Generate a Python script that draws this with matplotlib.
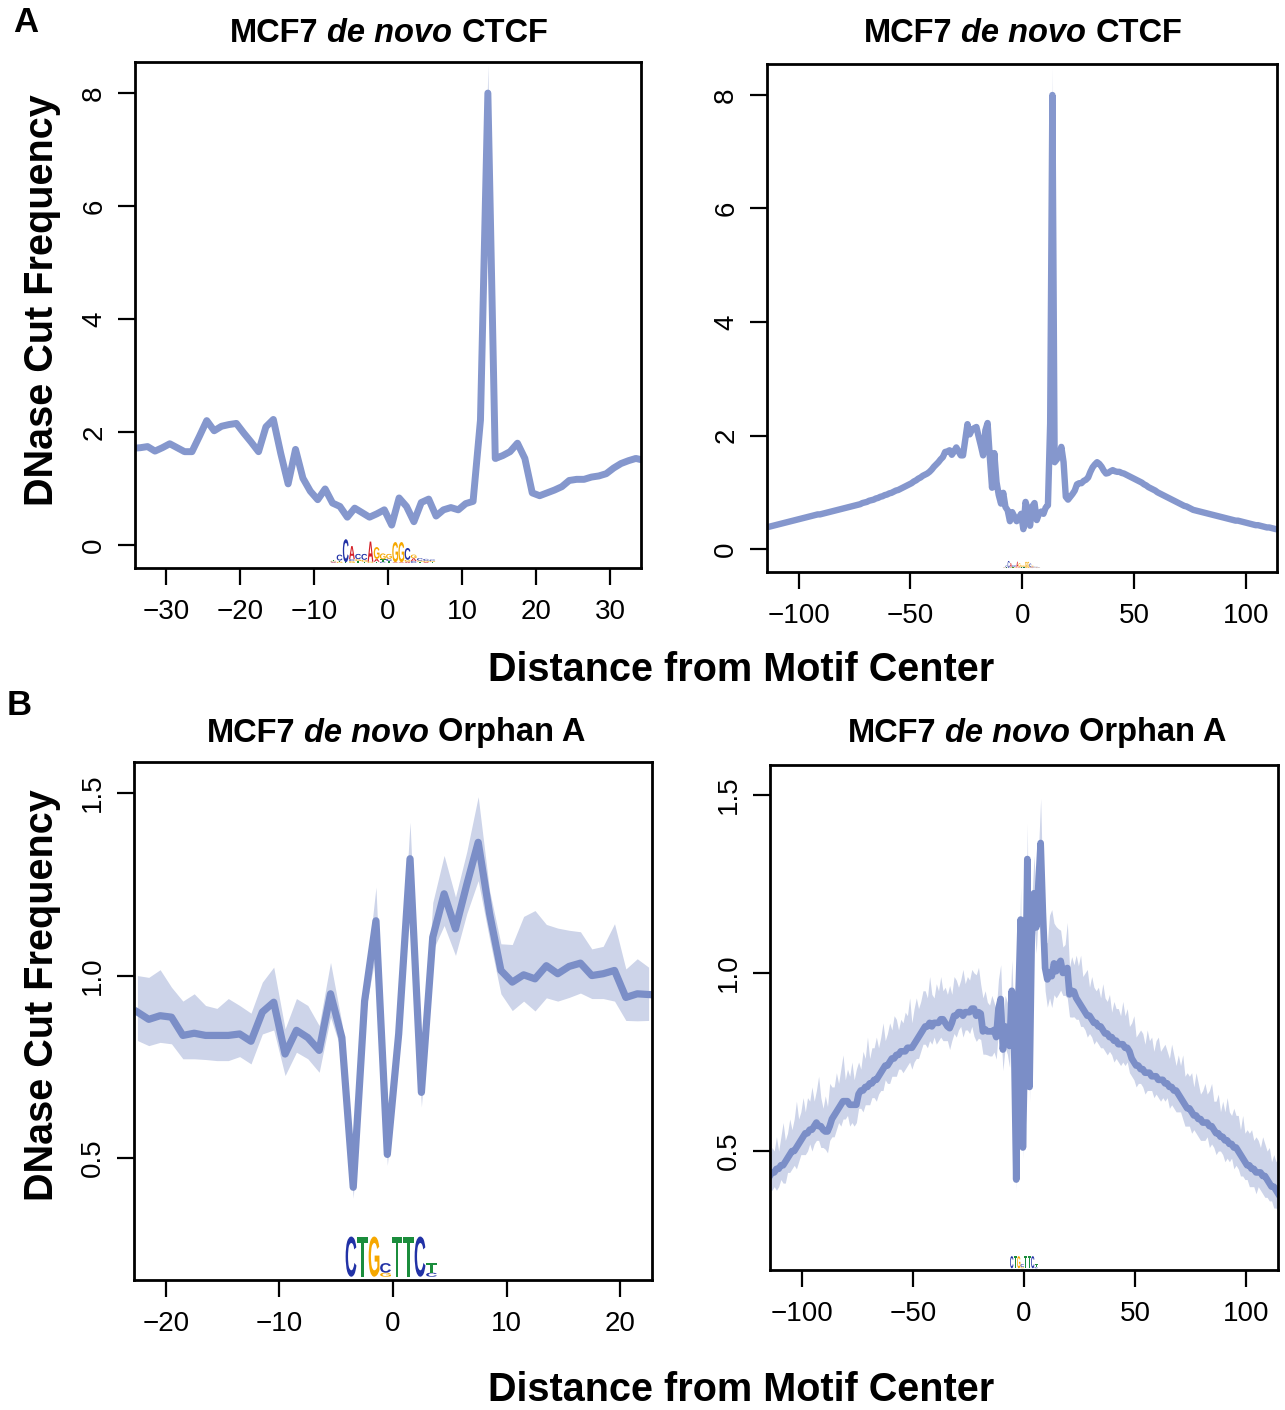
import numpy as np
import matplotlib.pyplot as plt
from matplotlib.font_manager import FontProperties
from matplotlib.patches import PathPatch
from matplotlib.textpath import TextPath
from matplotlib.transforms import Affine2D

W, H = 1285, 1410

# ---- CTCF profile, core window (positions -34.5 .. 34.5) ----
ctcf_x = np.arange(-34.5, 35.0, 1.0)
ctcf_y = [1.71, 1.72, 1.74, 1.66, 1.72, 1.79, 1.72, 1.65, 1.65, 1.92,
          2.20, 2.02, 2.10, 2.13, 2.15, 1.98, 1.82, 1.65, 2.09, 2.22,
          1.62, 1.08, 1.69, 1.18, 0.95, 0.80, 0.99, 0.74, 0.68, 0.49,
          0.65, 0.57, 0.49, 0.55, 0.62, 0.35, 0.83, 0.68, 0.41, 0.75,
          0.81, 0.51, 0.62, 0.66, 0.62, 0.73, 0.77, 2.21, 8.00, 1.53,
          1.58, 1.65, 1.80, 1.53, 0.92, 0.87, 0.92, 0.97, 1.03, 1.14,
          1.16, 1.16, 1.20, 1.22, 1.26, 1.36, 1.44, 1.49, 1.53, 1.50]
# confidence half-width (hundredths)
ctcf_err = [5, 4, 4, 3, 4, 4, 3, 3, 3, 4,
            4, 3, 3, 3, 3, 3, 3, 3, 4, 4,
            4, 4, 4, 3, 3, 3, 3, 3, 3, 3,
            3, 3, 3, 3, 3, 3, 3, 3, 3, 3,
            3, 3, 3, 3, 3, 3, 3, 10, 50, 6,
            4, 4, 4, 4, 3, 3, 3, 3, 3, 3,
            3, 3, 3, 3, 3, 3, 3, 3, 3, 4]

# flanks for the wide window (-114.5 .. -35.5 and 35.5 .. 114.5)
ctcf_left_x = np.arange(-114.5, -35.0, 1.0)
ctcf_left_y = [0.38, 0.39, 0.40, 0.41, 0.42, 0.43, 0.44, 0.45, 0.46, 0.47,
               0.48, 0.49, 0.50, 0.51, 0.52, 0.53, 0.54, 0.55, 0.56, 0.57,
               0.58, 0.59, 0.60, 0.61, 0.61, 0.62, 0.63, 0.64, 0.65, 0.66,
               0.67, 0.68, 0.69, 0.70, 0.71, 0.72, 0.73, 0.74, 0.75, 0.76,
               0.77, 0.78, 0.79, 0.81, 0.82, 0.83, 0.85, 0.86, 0.87, 0.89,
               0.90, 0.92, 0.93, 0.95, 0.96, 0.98, 0.99, 1.01, 1.03, 1.04,
               1.06, 1.08, 1.10, 1.12, 1.14, 1.16, 1.19, 1.21, 1.24, 1.26,
               1.29, 1.31, 1.33, 1.36, 1.40, 1.45, 1.49, 1.53, 1.58, 1.62]
ctcf_right_x = np.arange(35.5, 115.0, 1.0)
ctcf_right_y = [1.45, 1.38, 1.33, 1.34, 1.37, 1.39, 1.37, 1.36, 1.36, 1.34,
                1.33, 1.31, 1.29, 1.27, 1.25, 1.23, 1.21, 1.19, 1.17, 1.14,
                1.12, 1.09, 1.07, 1.05, 1.03, 1.00, 0.98, 0.96, 0.94, 0.92,
                0.90, 0.88, 0.86, 0.84, 0.82, 0.80, 0.78, 0.76, 0.75, 0.73,
                0.71, 0.69, 0.68, 0.67, 0.66, 0.65, 0.64, 0.63, 0.62, 0.61,
                0.60, 0.59, 0.58, 0.57, 0.56, 0.55, 0.54, 0.53, 0.52, 0.51,
                0.50, 0.50, 0.49, 0.48, 0.47, 0.46, 0.45, 0.44, 0.43, 0.42,
                0.42, 0.41, 0.40, 0.39, 0.38, 0.38, 0.37, 0.36, 0.35, 0.35]
ctcf_flank_err = 0.03

# ---- Orphan A profile, core window (-22.5 .. 22.5) ----
orph_x = np.arange(-22.5, 23.0, 1.0)
orph_y = [0.90, 0.88, 0.89, 0.886, 0.836, 0.842, 0.836, 0.836, 0.836, 0.84,
          0.82, 0.90, 0.927, 0.785, 0.85, 0.83, 0.795, 0.95, 0.83, 0.42,
          0.93, 1.15, 0.51, 0.84, 1.32, 0.68, 1.105, 1.224, 1.128, 1.25,
          1.365, 1.17, 1.014, 0.982, 1.002, 0.991, 1.027, 1.005, 1.025, 1.034,
          1.0, 1.005, 1.014, 0.94, 0.95, 0.948]
orph_hi = [1.00, 0.995, 1.016, 0.968, 0.93, 0.95, 0.918, 0.91, 0.937, 0.918,
           0.897, 0.982, 1.023, 0.854, 0.937, 0.918, 0.863, 1.036, 0.87, 0.45,
           0.96, 1.242, 0.54, 0.89, 1.42, 0.72, 1.20, 1.329, 1.215, 1.34,
           1.49, 1.233, 1.087, 1.085, 1.162, 1.178, 1.14, 1.13, 1.124, 1.12,
           1.073, 1.08, 1.142, 1.018, 1.046, 1.023]
orph_lo = [0.822, 0.808, 0.817, 0.813, 0.772, 0.772, 0.77, 0.767, 0.767, 0.778,
           0.758, 0.84, 0.851, 0.726, 0.79, 0.772, 0.735, 0.886, 0.79, 0.39,
           0.89, 1.06, 0.48, 0.79, 1.22, 0.64, 1.068, 1.137, 1.055, 1.17,
           1.26, 1.10, 0.95, 0.904, 0.93, 0.903, 0.939, 0.93, 0.94, 0.952,
           0.937, 0.937, 0.93, 0.877, 0.876, 0.877]

orph_left_x = np.arange(-114.5, -23.0, 1.0)
orph_left_y = [0.43, 0.44, 0.44, 0.45, 0.45, 0.46, 0.46, 0.47, 0.48, 0.49,
               0.50, 0.50, 0.51, 0.52, 0.53, 0.54, 0.55, 0.55, 0.56, 0.56,
               0.57, 0.58, 0.57, 0.57, 0.56, 0.555, 0.555, 0.57, 0.59, 0.60,
               0.61, 0.62, 0.63, 0.64, 0.64, 0.64, 0.63, 0.63, 0.63, 0.63,
               0.66, 0.67, 0.67, 0.68, 0.68, 0.69, 0.69, 0.70, 0.70, 0.71,
               0.72, 0.73, 0.74, 0.74, 0.75, 0.76, 0.76, 0.77, 0.77, 0.78,
               0.78, 0.78, 0.79, 0.79, 0.79, 0.80, 0.81, 0.82, 0.83, 0.84,
               0.85, 0.85, 0.86, 0.85, 0.86, 0.86, 0.86, 0.87, 0.87, 0.86,
               0.85, 0.845, 0.86, 0.88, 0.88, 0.89, 0.89, 0.88, 0.89, 0.89,
               0.89, 0.90]
# band offsets above / below the line (hundredths)
orph_left_up = [5, 7, 6, 9, 5, 8, 12, 6, 7, 10,
                6, 9, 13, 7, 8, 11, 6, 10, 8, 12,
                7, 9, 14, 8, 6, 10, 7, 12, 9, 8,
                11, 7, 10, 13, 6, 9, 8, 12, 7, 10,
                9, 6, 11, 8, 14, 7, 10, 9, 12, 8,
                10, 13, 7, 9, 11, 8, 12, 10, 7, 9,
                8, 11, 9, 14, 7, 10, 12, 8, 9, 11,
                10, 8, 13, 9, 7, 11, 9, 12, 8, 10,
                9, 12, 8, 11, 10, 7, 9, 13, 8, 10,
                9, 11]
orph_left_dn = [4, 5, 4, 6, 5, 4, 5, 6, 4, 5,
                5, 4, 6, 5, 4, 5, 6, 5, 4, 6,
                5, 5, 4, 6, 5, 5, 6, 4, 5, 6,
                5, 4, 6, 5, 5, 4, 6, 5, 6, 5,
                4, 5, 6, 5, 5, 6, 4, 5, 6, 5,
                5, 6, 4, 5, 6, 5, 5, 6, 4, 5,
                6, 5, 5, 4, 6, 5, 5, 6, 5, 4,
                5, 6, 5, 5, 4, 6, 5, 5, 6, 5,
                4, 6, 5, 5, 6, 5, 4, 6, 5, 5,
                6, 5]

orph_right_x = np.arange(23.5, 115.0, 1.0)
orph_right_y = [0.93, 0.92, 0.91, 0.90, 0.89, 0.88, 0.88, 0.87, 0.86, 0.86,
                0.85, 0.85, 0.84, 0.83, 0.83, 0.82, 0.82, 0.81, 0.81, 0.80,
                0.80, 0.80, 0.79, 0.79, 0.78, 0.76, 0.75, 0.74, 0.74, 0.73,
                0.73, 0.72, 0.72, 0.72, 0.71, 0.71, 0.71, 0.70, 0.70, 0.70,
                0.69, 0.69, 0.68, 0.68, 0.67, 0.67, 0.66, 0.65, 0.64, 0.63,
                0.62, 0.62, 0.61, 0.60, 0.60, 0.59, 0.59, 0.58, 0.58, 0.58,
                0.57, 0.57, 0.56, 0.55, 0.55, 0.54, 0.54, 0.53, 0.53, 0.52,
                0.52, 0.51, 0.51, 0.50, 0.49, 0.48, 0.47, 0.46, 0.46, 0.45,
                0.45, 0.44, 0.44, 0.44, 0.43, 0.43, 0.42, 0.41, 0.40, 0.40,
                0.39, 0.38]
orph_right_up = [12, 10, 14, 9, 11, 13, 8, 12, 10, 9,
                 11, 8, 13, 10, 9, 12, 7, 11, 9, 10,
                 8, 12, 9, 11, 7, 10, 13, 8, 9, 11,
                 10, 8, 12, 9, 11, 7, 10, 12, 8, 9,
                 11, 9, 8, 12, 10, 7, 11, 9, 13, 8,
                 10, 9, 11, 8, 12, 10, 7, 9, 11, 8,
                 10, 12, 8, 9, 11, 7, 10, 8, 12, 9,
                 8, 11, 9, 10, 7, 12, 8, 10, 9, 11,
                 8, 10, 9, 7, 11, 9, 8, 10, 7, 9,
                 8, 10]
orph_right_dn = [6, 5, 6, 5, 5, 6, 5, 5, 6, 5,
                 5, 6, 5, 5, 6, 4, 5, 6, 5, 5,
                 6, 5, 5, 4, 6, 5, 5, 6, 5, 4,
                 5, 6, 5, 5, 4, 6, 5, 5, 6, 5,
                 5, 4, 6, 5, 5, 6, 5, 4, 5, 6,
                 5, 5, 6, 4, 5, 5, 6, 5, 5, 4,
                 6, 5, 5, 6, 5, 4, 5, 6, 5, 5,
                 4, 6, 5, 5, 6, 5, 5, 4, 6, 5,
                 5, 6, 4, 5, 5, 6, 5, 5, 4, 6,
                 5, 5]

# ---- motif logos (each column listed bottom -> top, as fraction of full height) ----
ctcf_motif = [
    [('A', .03), ('C', .03), ('G', .03), ('T', .03)],
    [('G', .05), ('T', .05), ('C', .25)],
    [('T', .03), ('C', .97)],
    [('G', .08), ('C', .08), ('A', .55)],
    [('T', .08), ('G', .08), ('C', .22)],
    [('T', .05), ('G', .08), ('C', .25)],
    [('G', .05), ('A', .85)],
    [('T', .05), ('A', .12), ('G', .50)],
    [('C', .05), ('T', .10), ('G', .25)],
    [('T', .08), ('C', .10), ('G', .20)],
    [('A', .03), ('G', .85)],
    [('A', .03), ('G', .85)],
    [('A', .05), ('G', .08), ('C', .50)],
    [('C', .08), ('A', .12), ('G', .15)],
    [('T', .05), ('G', .05), ('C', .10)],
    [('A', .04), ('G', .05), ('C', .08)],
    [('T', .04), ('G', .04), ('C', .06)],
]
orph_motif = [
    [('C', 1.0)],
    [('T', 1.0)],
    [('G', 1.0)],
    [('G', .10), ('C', .24)],
    [('T', 1.0)],
    [('T', 1.0)],
    [('C', 1.0)],
    [('C', .10), ('T', .24)],
]

LINE_A = '#8597cd'
LINE_B = '#7b8ec7'
BAND = '#cdd4e9'
LOGO_COLORS = {'A': '#d42027', 'C': '#2232a6', 'G': '#f6a800', 'T': '#1b8d3c'}
TICK_FONT = ['Liberation Sans Narrow', 'Liberation Sans']

plt.rcParams['font.family'] = ['Liberation Sans', 'DejaVu Sans']
logo_font = FontProperties(family='Liberation Sans', weight='bold')

fig = plt.figure(figsize=(W / 100, H / 100), dpi=100)


def px_axes(x0, y0, x1, y1):
    return fig.add_axes([x0 / W, 1 - y1 / H, (x1 - x0) / W, (y1 - y0) / H])


def draw_logo(ax, motif, x0, x1, y0, height):
    step = (x1 - x0) / len(motif)
    for i, stack in enumerate(motif):
        base = y0
        for letter, frac in stack:
            h = frac * height
            path = TextPath((0, 0), letter, size=1, prop=logo_font)
            bb = path.get_extents()
            tr = (Affine2D().translate(-bb.x0, -bb.y0)
                  .scale(step * 0.94 / bb.width, h / bb.height)
                  .translate(x0 + i * step + step * 0.03, base))
            ax.add_patch(PathPatch(tr.transform_path(path), fc=LOGO_COLORS[letter],
                                   ec='none', clip_on=False, zorder=4))
            base += h


def profile(ax, x, y, lo, hi, color, lw):
    ax.fill_between(x, lo, hi, color=BAND, lw=0, zorder=1)
    ax.plot(x, y, color=color, lw=lw, solid_joinstyle='round', zorder=2)


def finish(ax, xlim, ylim, xticks, yticks, ylabels):
    ax.set_xlim(xlim)
    ax.set_ylim(ylim)
    ax.set_xticks(xticks, [str(v).replace('-', '\u2212') for v in xticks])
    ax.set_yticks(yticks, ylabels, rotation=90, va='center')
    ax.tick_params(length=12, width=1.6, labelsize=20)
    ax.tick_params(axis='x', pad=10)
    ax.tick_params(axis='y', pad=8)
    for sp in ax.spines.values():
        sp.set_linewidth(2)
    for lbl in ax.get_xticklabels() + ax.get_yticklabels():
        lbl.set_family(TICK_FONT)


def mixed_title(ax, cx, cy, parts, size=23.5):
    items = []
    prev = None
    for text, style in parts:
        if prev is None:
            t = ax.annotate(text, xy=(cx / W, 1 - cy / H), xycoords='figure fraction',
                            ha='left', va='center', fontsize=size, fontweight='bold',
                            fontstyle=style, annotation_clip=False)
        else:
            t = ax.annotate(text, xy=(1, 0), xycoords=prev, xytext=(0.278 * size, 0),
                            textcoords='offset points', ha='left', va='bottom',
                            fontsize=size, fontweight='bold', fontstyle=style,
                            annotation_clip=False)
        items.append(t)
        prev = t
    return items, cx, cy


# ---- A left ----
ax1 = px_axes(135, 62, 641, 568)
c_y = np.array(ctcf_y)
c_e = np.array(ctcf_err) / 100
profile(ax1, ctcf_x, c_y, c_y - c_e, c_y + c_e, LINE_A, 5.0)
finish(ax1, (-34.2, 34.2), (-0.41, 8.55), [-30, -20, -10, 0, 10, 20, 30],
       [0, 2, 4, 6, 8], ['0', '2', '4', '6', '8'])
draw_logo(ax1, ctcf_motif, -7.8, 6.4, -0.32, 0.42)

# ---- A right ----
ax2 = px_axes(767, 64, 1277, 572)
wx = np.concatenate([ctcf_left_x, ctcf_x, ctcf_right_x])
wy = np.concatenate([ctcf_left_y, c_y, ctcf_right_y])
we = np.concatenate([np.full(len(ctcf_left_y), ctcf_flank_err), c_e,
                     np.full(len(ctcf_right_y), ctcf_flank_err)])
profile(ax2, wx, wy, wy - we, wy + we, LINE_A, 4.6)
finish(ax2, (-114.2, 114.0), (-0.405, 8.546), [-100, -50, 0, 50, 100],
       [0, 2, 4, 6, 8], ['0', '2', '4', '6', '8'])
draw_logo(ax2, ctcf_motif, -8.5, 8.0, -0.335, 0.125)

# ---- B left ----
ax3 = px_axes(134, 762, 652, 1280)
profile(ax3, orph_x, orph_y, orph_lo, orph_hi, LINE_B, 5.2)
finish(ax3, (-22.8, 22.8), (0.166, 1.585), [-20, -10, 0, 10, 20],
       [0.5, 1.0, 1.5], ['0.5', '1.0', '1.5'])
draw_logo(ax3, orph_motif, -4.2, 3.9, 0.175, 0.11)

# ---- B right ----
ax4 = px_axes(770, 765, 1278, 1270)
bx = np.concatenate([orph_left_x, orph_x, orph_right_x])
by = np.concatenate([orph_left_y, orph_y, orph_right_y])
bhi = np.concatenate([np.array(orph_left_y) + np.array(orph_left_up) / 100, orph_hi,
                      np.array(orph_right_y) + np.array(orph_right_up) / 100])
blo = np.concatenate([np.array(orph_left_y) - np.array(orph_left_dn) / 100, orph_lo,
                      np.array(orph_right_y) - np.array(orph_right_dn) / 100])
profile(ax4, bx, by, blo, bhi, LINE_B, 4.8)
finish(ax4, (-114.4, 114.4), (0.166, 1.584), [-100, -50, 0, 50, 100],
       [0.5, 1.0, 1.5], ['0.5', '1.0', '1.5'])
draw_logo(ax4, orph_motif, -6.3, 6.3, 0.171, 0.034)

# ---- titles and labels ----
groups = [
    mixed_title(ax1, 389, 33, [('MCF7', 'normal'), ('de novo', 'italic'), ('CTCF', 'normal')]),
    mixed_title(ax2, 1023, 33, [('MCF7', 'normal'), ('de novo', 'italic'), ('CTCF', 'normal')]),
    mixed_title(ax3, 396, 733, [('MCF7', 'normal'), ('de novo', 'italic'), ('Orphan A', 'normal')]),
    mixed_title(ax4, 1037, 733, [('MCF7', 'normal'), ('de novo', 'italic'), ('Orphan A', 'normal')]),
]

for yc in (300, 995):
    fig.text(42 / W, 1 - yc / H, 'DNase Cut Frequency', rotation=90, fontsize=28.5,
             fontweight='bold', ha='center', va='center')
for yc in (670, 1390):
    fig.text(741 / W, 1 - yc / H, 'Distance from Motif Center', fontsize=28.5,
             fontweight='bold', ha='center', va='center')
fig.text(26 / W, 1 - 22 / H, 'A', fontsize=25, fontweight='bold', ha='center', va='center')
fig.text(19 / W, 1 - 706 / H, 'B', fontsize=25, fontweight='bold', ha='center', va='center')

# centre the multi-style titles (the text position lives in xyann, not xy)
fig.canvas.draw()
rend = fig.canvas.get_renderer()
for items, cx, cy in groups:
    x0 = items[0].get_window_extent(rend).x0
    x1 = items[-1].get_window_extent(rend).x1
    items[0].set_position(((cx - (x1 - x0) / 2) / W, 1 - cy / H))

fig.savefig('out.png', dpi=100)
